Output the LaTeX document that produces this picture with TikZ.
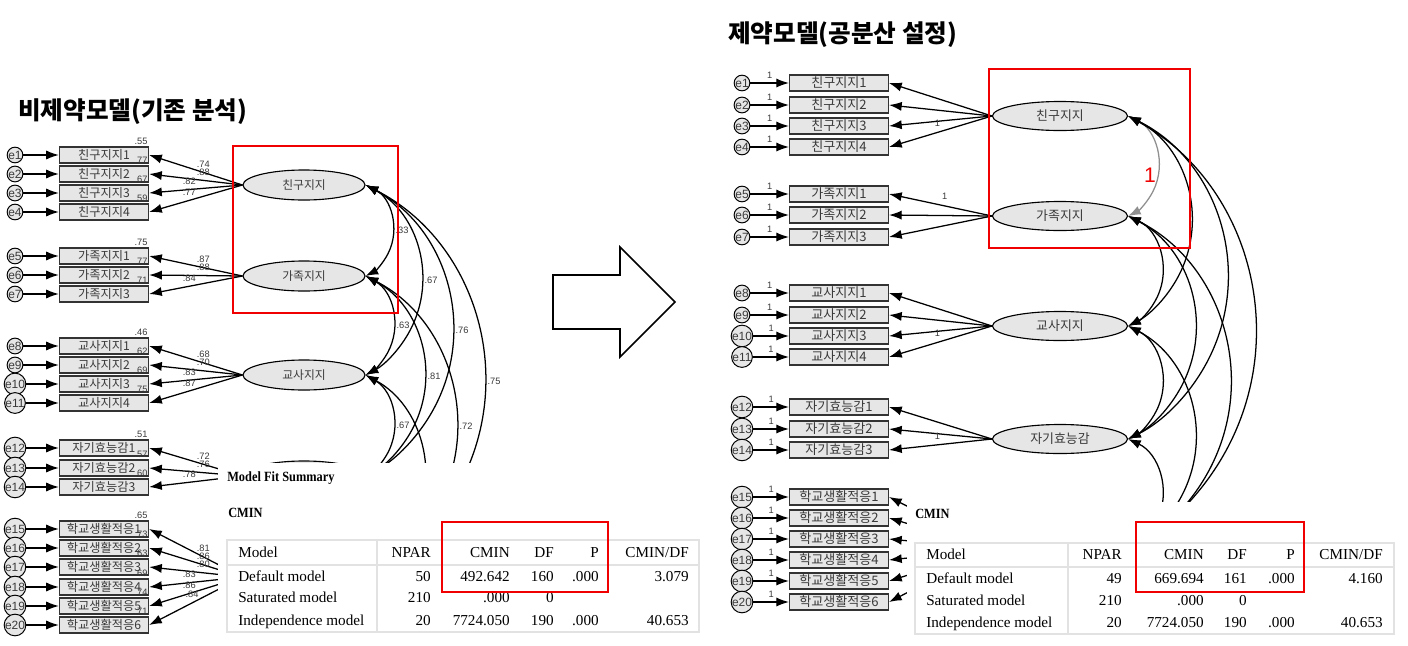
\documentclass[tikz,border=0pt]{standalone}
\usepackage{fontspec}
\setmainfont{Liberation Serif}
\setsansfont{Liberation Sans}
\newfontfamily\krfont{Noto Sans CJK KR}
\newfontfamily\headfont{Liberation Serif}[FakeStretch=0.88]
\usetikzlibrary{positioning, arrows.meta, calc, shapes.geometric}
\definecolor{amosfill}{HTML}{E6E6E6}
\definecolor{amosline}{HTML}{333333}
\definecolor{amostext}{HTML}{3A3A3A}
\definecolor{fixgray}{HTML}{8F8F8F}
\definecolor{tablegrid}{HTML}{E2E2E2}
\definecolor{markred}{HTML}{F00000}

\begin{document}
\begin{tikzpicture}[
  x=0.025cm, y=-0.025cm,
  obsL/.style={rectangle, draw=amosline, line width=0.9pt, fill=amosfill, minimum width=2.225cm, minimum height=0.4cm, inner sep=0pt, text=amostext, font=\krfont\fontsize{8.7}{9}\selectfont},
  obsR/.style={obsL, minimum width=2.47cm, minimum height=0.4cm, font=\krfont\fontsize{9.3}{10}\selectfont},
  latL/.style={ellipse, draw=black, line width=0.8pt, fill=amosfill, minimum width=3.05cm, minimum height=0.75cm, inner sep=0pt, text=amostext, font=\krfont\fontsize{8.4}{9}\selectfont},
  latR/.style={latL, minimum width=3.375cm, minimum height=0.725cm, font=\krfont\fontsize{9.2}{10}\selectfont},
  errL/.style={circle, draw=black, line width=0.7pt, fill=amosfill, minimum size=0.35cm, inner sep=0pt, text=amostext, font=\sffamily\fontsize{8.5}{9}\selectfont},
  errR/.style={errL, minimum size=0.375cm},
  ar/.style={-{Latex[length=9pt, width=6.5pt]}, line width=0.9pt},
  cov/.style={{Latex[length=9pt, width=6.5pt]}-{Latex[length=9pt, width=6.5pt]}, line width=0.9pt},
  num/.style={font=\sffamily\fontsize{6.6}{7}\selectfont, text=amostext, inner sep=1pt},
  ttl/.style={font=\krfont\bfseries\fontsize{17.5}{20}\selectfont, anchor=west, inner sep=0pt},
  redbox/.style={draw=markred, line width=1.4pt},
  grid/.style={draw=tablegrid, line width=1.2pt},
  cell/.style={font=\fontsize{10.8}{12}\selectfont, inner sep=0pt, text height=1.6ex, text depth=.3ex},
  head/.style={font=\headfont\bfseries\fontsize{10}{12}\selectfont, anchor=west, inner sep=0pt}
]
\useasboundingbox (0,0) rectangle (1408,645);
\fill[white] (0,0) rectangle (1408,645);

\node[ttl] (ttlL) at (18,112) {비제약모델(기존 분석)};
\node[ttl] (ttlR) at (728,35) {제약모델(공분산 설정)};

% unconstrained model
\foreach \y/\t [count=\k] in {185/친구지지, 276/가족지지, 375/교사지지, 476/, 577/}
  \node[latL] (lf\k) at (304,\y) {\t};

\foreach \i/\y/\t in {1/155/친구지지1, 2/174/친구지지2, 3/193/친구지지3, 4/212/친구지지4,
    5/256/가족지지1, 6/275/가족지지2, 7/294/가족지지3,
    8/346/교사지지1, 9/365/교사지지2, 10/384/교사지지3, 11/403/교사지지4,
    12/448/자기효능감1, 13/468/자기효능감2, 14/487/자기효능감3,
    15/529/학교생활적응1, 16/548/학교생활적응2, 17/567/학교생활적응3,
    18/587/학교생활적응4, 19/606/학교생활적응5, 20/625/학교생활적응6}{
  \node[obsL] (lo\i) at (104,\y) {\t};
  \node[errL] (le\i) at (15,\y) {e\i};
  \draw[ar] (le\i) -- (lo\i);
}

\foreach \f/\i/\p/\v in {1/1/.42/.74, 1/2/.42/.88, 1/3/.57/.82, 1/4/.57/.77,
    2/5/.42/.87, 2/6/.42/.88, 2/7/.57/.84,
    3/8/.42/.68, 3/9/.42/.70, 3/10/.57/.83, 3/11/.57/.87,
    4/12/.42/.72, 4/13/.42/.76, 4/14/.57/.78,
    5/15/.42/.81, 5/16/.42/.86, 5/17/.42/.80, 5/18/.57/.83, 5/19/.57/.86, 5/20/.54/.84}
  \draw[ar] (lf\f.west) -- node[num, pos=\p, above=2pt] {\v} (lo\i.east);

\foreach \i/\v in {1/.55, 2/.77, 3/.67, 4/.59, 5/.75, 6/.77, 7/.71, 8/.46, 9/.62, 10/.69,
    11/.75, 12/.51, 13/.57, 14/.60, 15/.65, 16/.73, 17/.63, 18/.69, 19/.74, 20/.71}
  \node[num, anchor=south east] (ls\i) at (lo\i.north east) {\v};

\foreach \a/\b/\s/\v in {1/2/28/.33, 1/3/57/.67, 1/4/88/.76, 1/5/120/.75,
    2/3/29/.63, 2/4/60/.81, 2/5/92/.72, 3/4/29/.67}
  \draw[cov] let \p1=(lf\a.east), \p2=(lf\b.east),
      \n1={(\y1-\y2)/2}, \n2={\s*0.7113pt}, \n3={(\n1*(\n1/\n2)+\n2)/2},
      \n4={atan2(\n1,\n3-\n2)}
    in (\p1) arc[start angle=\n4, end angle=-\n4, radius=\n3]
    node[num, anchor=west] at (\x1+\n2, {(\y1+\y2)/2}) {\v};
\foreach \a/\b/\s in {3/5/60, 4/5/29}
  \draw[cov] let \p1=(lf\a.east), \p2=(lf\b.east),
      \n1={(\y1-\y2)/2}, \n2={\s*0.7113pt}, \n3={(\n1*(\n1/\n2)+\n2)/2},
      \n4={atan2(\n1,\n3-\n2)}
    in (\p1) arc[start angle=\n4, end angle=-\n4, radius=\n3];

\fill[white] (218,463) rectangle (712,645);
\node[head] (fitL) at (227,478) {Model Fit Summary};
\node[head] (cminL) at (228,513) {CMIN};
\draw[grid] (227,540) rectangle (699,632);
\draw[grid] (227,565) -- (699,565);
\draw[grid] (377,540) -- (377,632);
\foreach \y/\m/\np/\cm/\df/\p/\cd [count=\r] in {553/Model/NPAR/CMIN/DF/P/{CMIN/DF},
    577/Default model/50/492.642/160/.000/3.079,
    598/Saturated model/210/.000/0//,
    621/Independence model/20/7724.050/190/.000/40.653}{
  \node[cell, anchor=west] (lt\r a) at (238,\y) {\m};
  \node[cell, anchor=east] (lt\r b) at (431,\y) {\np};
  \node[cell, anchor=east] (lt\r c) at (510,\y) {\cm};
  \node[cell, anchor=east] (lt\r d) at (554,\y) {\df};
  \node[cell, anchor=east] (lt\r e) at (599,\y) {\p};
  \node[cell, anchor=east] (lt\r f) at (689,\y) {\cd};
}

% constrained model
\foreach \y/\t [count=\k] in {116/친구지지, 216/가족지지, 326/교사지지, 439/자기효능감, 549/}
  \node[latR] (rf\k) at (1060,\y) {\t};

\foreach \i/\y/\t in {1/83/친구지지1, 2/105/친구지지2, 3/126/친구지지3, 4/147/친구지지4,
    5/194/가족지지1, 6/215/가족지지2, 7/237/가족지지3,
    8/293/교사지지1, 9/315/교사지지2, 10/336/교사지지3, 11/357/교사지지4,
    12/407/자기효능감1, 13/429/자기효능감2, 14/450/자기효능감3,
    15/497/학교생활적응1, 16/518/학교생활적응2, 17/539/학교생활적응3,
    18/560/학교생활적응4, 19/581/학교생활적응5, 20/602/학교생활적응6}{
  \node[obsR] (ro\i) at (839,\y) {\t};
  \node[errR] (re\i) at (742,\y) {e\i};
  \draw[ar] (re\i) -- node[num, midway, above=1.5pt] {1} (ro\i);
}

\foreach \f/\i in {1/1, 1/2, 1/3, 1/4, 2/5, 2/6, 2/7, 3/8, 3/9, 3/10, 3/11,
    4/12, 4/13, 4/14, 5/15, 5/16, 5/17, 5/18, 5/19, 5/20}
  \draw[ar] (rf\f.west) -- (ro\i.east);
\node[num, yshift=-1.5pt] (rw1) at ($(rf1.west)!.53!(ro3.east)$) {1};
\node[num, above=3pt] (rw2) at ($(rf2.west)!.46!(ro5.east)$) {1};
\node[num, yshift=-1.5pt] (rw3) at ($(rf3.west)!.53!(ro10.east)$) {1};
\node[num, yshift=-1.5pt] (rw4) at ($(rf4.west)!.53!(ro13.east)$) {1};

\draw[cov, draw=fixgray] let \p1=(rf1.east), \p2=(rf2.east),
    \n1={(\y1-\y2)/2}, \n2={31*0.7113pt}, \n3={(\n1*(\n1/\n2)+\n2)/2},
    \n4={atan2(\n1,\n3-\n2)}
  in (\p1) arc[start angle=\n4, end angle=-\n4, radius=\n3];
\foreach \a/\b/\s in {2/3/35, 3/4/35, 4/5/35, 1/3/64, 2/4/68, 3/5/68, 1/4/100, 2/5/103, 1/5/128}
  \draw[cov] let \p1=(rf\a.east), \p2=(rf\b.east),
      \n1={(\y1-\y2)/2}, \n2={\s*0.7113pt}, \n3={(\n1*(\n1/\n2)+\n2)/2},
      \n4={atan2(\n1,\n3-\n2)}
    in (\p1) arc[start angle=\n4, end angle=-\n4, radius=\n3];
\node[font=\sffamily\fontsize{15}{16}\selectfont, text=markred, inner sep=0pt] (fix1) at (1150,175) {1};

\fill[white] (907,502) rectangle (1408,645);
\node[head] (cminR) at (915,514) {CMIN};
\draw[grid] (915,543) rectangle (1394,634);
\draw[grid] (915,567) -- (1394,567);
\draw[grid] (1068,543) -- (1068,634);
\foreach \y/\m/\np/\cm/\df/\p/\cd [count=\r] in {555/Model/NPAR/CMIN/DF/P/{CMIN/DF},
    579/Default model/49/669.694/161/.000/4.160,
    601/Saturated model/210/.000/0//,
    623/Independence model/20/7724.050/190/.000/40.653}{
  \node[cell, anchor=west] (rt\r a) at (926,\y) {\m};
  \node[cell, anchor=east] (rt\r b) at (1122,\y) {\np};
  \node[cell, anchor=east] (rt\r c) at (1204,\y) {\cm};
  \node[cell, anchor=east] (rt\r d) at (1247,\y) {\df};
  \node[cell, anchor=east] (rt\r e) at (1295,\y) {\p};
  \node[cell, anchor=east] (rt\r f) at (1383,\y) {\cd};
}

\draw[redbox] (233,146) rectangle (398,313);
\draw[redbox] (442,522) rectangle (608,592);
\draw[redbox] (989,69) rectangle (1190,248);
\draw[redbox] (1136,522) rectangle (1304,592);

\draw[line width=1.1pt, fill=white] (553,275) -- (620,275) -- (620,247) -- (675,302)
  -- (620,357) -- (620,329) -- (553,329) -- cycle;

\end{tikzpicture}
\end{document}
